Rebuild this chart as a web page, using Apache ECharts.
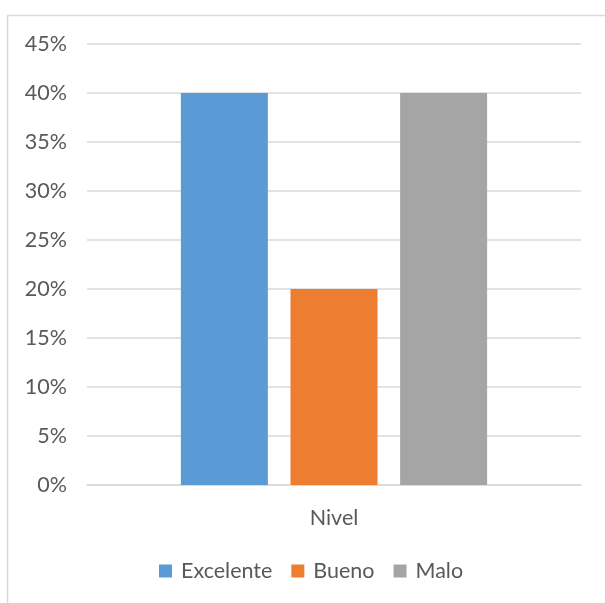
<!DOCTYPE html>
<html><head><meta charset="utf-8">
<script src="https://cdn.jsdelivr.net/npm/echarts@6/dist/echarts.min.js"></script>
<style>html,body{margin:0;padding:0;background:#fff}#c{width:605px;height:603px}</style>
</head><body><div id="c"></div>
<script>
const categories = ['Nivel'];
const seriesNames = ['Excelente', 'Bueno', 'Malo'];
const excelente = [0.40];
const bueno = [0.20];
const malo = [0.40];
const colors = ['#5b9bd5', '#ed7d31', '#a5a5a5'];
const values = [excelente, bueno, malo];

const chart = echarts.init(document.getElementById('c'), null, {renderer: 'canvas'});
const font = 'Lato, "Open Sans", sans-serif';
chart.setOption({
  animation: false,
  graphic: [{type: 'rect', shape: {x: 7.5, y: 15.5, width: 610, height: 600}, style: {fill: 'none', stroke: '#d9d9d9', lineWidth: 1.5}, silent: true}],
  grid: {left: 87, right: 24, top: 44, bottom: 118, containLabel: false},
  legend: {
    data: seriesNames, top: 555, left: 154, icon: 'rect', itemWidth: 13, itemHeight: 13, itemGap: 19,
    itemStyle: {borderWidth: 0},
    textStyle: {color: '#595959', fontSize: 21.5, fontFamily: font, padding: [0, 0, 0, 4]}
  },
  xAxis: {
    type: 'category', data: categories,
    axisLine: {lineStyle: {color: '#d9d9d9', width: 1.5}}, axisTick: {show: false},
    axisLabel: {color: '#595959', fontSize: 21.5, fontFamily: font, margin: 22}
  },
  yAxis: {
    type: 'value', min: 0, max: 0.45, interval: 0.05,
    axisLine: {show: false}, axisTick: {show: false},
    splitLine: {lineStyle: {color: '#d9d9d9', width: 1.5}},
    axisLabel: {color: '#595959', fontSize: 21.5, fontFamily: font, margin: 20,
      formatter: v => Math.round(v * 100) + '%'}
  },
  series: seriesNames.map((n, i) => ({
    name: n, type: 'bar', data: values[i], barWidth: 87, barGap: '26%',
    itemStyle: {color: colors[i]}
  }))
});
</script></body></html>
